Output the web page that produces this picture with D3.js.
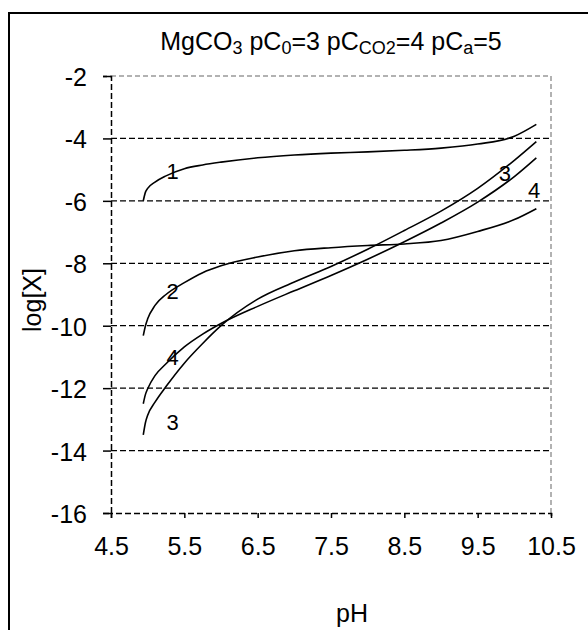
<!DOCTYPE html>
<html>
<head>
<meta charset="utf-8">
<script src="https://cdn.jsdelivr.net/npm/d3@7"></script>
<style>
  html, body { margin: 0; padding: 0; background: #fff; }
  svg { display: block; font-family: "Liberation Sans", Arial, sans-serif; }
</style>
</head>
<body>
<svg id="chart" width="588" height="630"></svg>
<script>
// pH grid shared by all four curves
const pH = [4.94, 4.97, 5.0, 5.1, 5.25, 5.5, 5.75, 6.0, 6.5, 7.0, 7.5, 8.0, 8.5, 9.0, 9.5, 10.0, 10.3];

// log concentrations of each species along the pH grid
const curve1 = [-6.0, -5.72, -5.6, -5.4, -5.2, -4.97, -4.85, -4.76, -4.62, -4.53, -4.47, -4.43, -4.38, -4.31, -4.18, -3.93, -3.55];
const curve2 = [-10.32, -10.0, -9.78, -9.35, -9.0, -8.62, -8.3, -8.08, -7.8, -7.6, -7.5, -7.43, -7.38, -7.27, -6.98, -6.6, -6.25];
const curve3 = [-13.5, -13.1, -12.87, -12.45, -11.95, -11.2, -10.57, -10.0, -9.15, -8.6, -8.1, -7.55, -6.95, -6.33, -5.6, -4.7, -4.1];
const curve4 = [-12.5, -12.2, -12.02, -11.6, -11.22, -10.68, -10.27, -9.93, -9.38, -8.88, -8.39, -7.87, -7.31, -6.71, -6.04, -5.22, -4.62];

const seriesNames = ["1", "2", "3", "4"];

// curve number labels: name, pH, log value
const labelNames = ["1", "2", "4", "3", "3", "4"];
const labelPH = [5.34, 5.34, 5.34, 5.34, 9.87, 10.27];
const labelLog = [-5.05, -8.89, -11.0, -13.1, -5.1, -5.65];

// axis ticks
const xTicks = [4.5, 5.5, 6.5, 7.5, 8.5, 9.5, 10.5];
const yTicks = [-2, -4, -6, -8, -10, -12, -14, -16];

const svg = d3.select("#chart");

// outer chart frame
svg.append("rect")
  .attr("x", 9).attr("y", 13)
  .attr("width", 600).attr("height", 640)
  .attr("fill", "none").attr("stroke", "#000").attr("stroke-width", 2);

const x = d3.scaleLinear().domain([4.5, 10.5]).range([111, 551]);
const y = d3.scaleLinear().domain([-16, -2]).range([513, 76]);

// horizontal gridlines
svg.append("g").selectAll("line")
  .data(yTicks.filter(v => v > -16 && v < -2))
  .join("line")
  .attr("x1", x(4.5)).attr("x2", x(10.5))
  .attr("y1", d => y(d)).attr("y2", d => y(d))
  .attr("stroke", "#000").attr("stroke-width", 1.2)
  .attr("stroke-dasharray", "6,3");

// plot area border (top and right) in grey
svg.append("path")
  .attr("d", `M${x(4.5)},${y(-2)}H${x(10.5)}V${y(-16)}`)
  .attr("fill", "none").attr("stroke", "#999").attr("stroke-width", 1.5)
  .attr("stroke-dasharray", "5,3");

// y axis
const yAxis = d3.axisLeft(y).tickValues(yTicks).tickSize(8).tickPadding(16)
  .tickFormat(d => d3.format("d")(d).replace("−", "-"));
const gy = svg.append("g").attr("transform", `translate(${x(4.5)},0)`).call(yAxis);
gy.select(".domain").attr("stroke", "#000").attr("stroke-width", 1.5).attr("stroke-dasharray", "6,3");
gy.selectAll(".tick line").attr("stroke", "#000").attr("stroke-width", 1.5);
gy.selectAll(".tick text").attr("font-size", 25).attr("fill", "#000")
  .attr("font-family", "Liberation Sans, Arial, sans-serif").attr("dy", "0.38em");

// x axis
const xAxis = d3.axisBottom(x).tickValues(xTicks).tickSize(5).tickPadding(19)
  .tickFormat(d3.format(".1f"));
const gx = svg.append("g").attr("transform", `translate(0,${y(-16)})`).call(xAxis);
gx.select(".domain").attr("stroke", "#000").attr("stroke-width", 1.5).attr("stroke-dasharray", "6,3");
gx.selectAll(".tick line").attr("stroke", "#000").attr("stroke-width", 1.5);
gx.selectAll(".tick text").attr("font-size", 25).attr("fill", "#000")
  .attr("font-family", "Liberation Sans, Arial, sans-serif");

// curves
const series = [curve1, curve2, curve3, curve4];
const line = d3.line().x(d => x(d[0])).y(d => y(d[1])).curve(d3.curveMonotoneX);
svg.append("g").selectAll("path")
  .data(series.map((vals, i) => ({ name: seriesNames[i], pts: vals.map((v, j) => [pH[j], v]) })))
  .join("path")
  .attr("d", d => line(d.pts))
  .attr("fill", "none").attr("stroke", "#000").attr("stroke-width", 1.6);

// curve number labels
svg.append("g").selectAll("text")
  .data(labelNames.map((n, i) => ({ n, px: labelPH[i], lv: labelLog[i] })))
  .join("text")
  .attr("x", d => x(d.px)).attr("y", d => y(d.lv))
  .attr("text-anchor", "middle").attr("dy", "0.36em")
  .attr("font-size", 22).attr("fill", "#000")
  .text(d => d.n);

// title with subscripts
const title = svg.append("text").attr("x", 331).attr("y", 50)
  .attr("text-anchor", "middle").attr("font-size", 25).attr("fill", "#000");
const parts = [["MgCO", false], ["3", true], [" pC", false], ["0", true], ["=3 pC", false],
               ["CO2", true], ["=4 pC", false], ["a", true], ["=5", false]];
parts.forEach(([t, sub]) => {
  const ts = title.append("tspan").text(t);
  if (sub) ts.attr("font-size", 18).attr("baseline-shift", "-22%");
});

// axis titles
svg.append("text").attr("x", 352).attr("y", 622)
  .attr("text-anchor", "middle").attr("font-size", 25).attr("fill", "#000").text("pH");
svg.append("text")
  .attr("transform", `translate(41,300) rotate(-90)`)
  .attr("text-anchor", "middle").attr("font-size", 25).attr("fill", "#000").text("log[X]");
</script>
</body>
</html>
